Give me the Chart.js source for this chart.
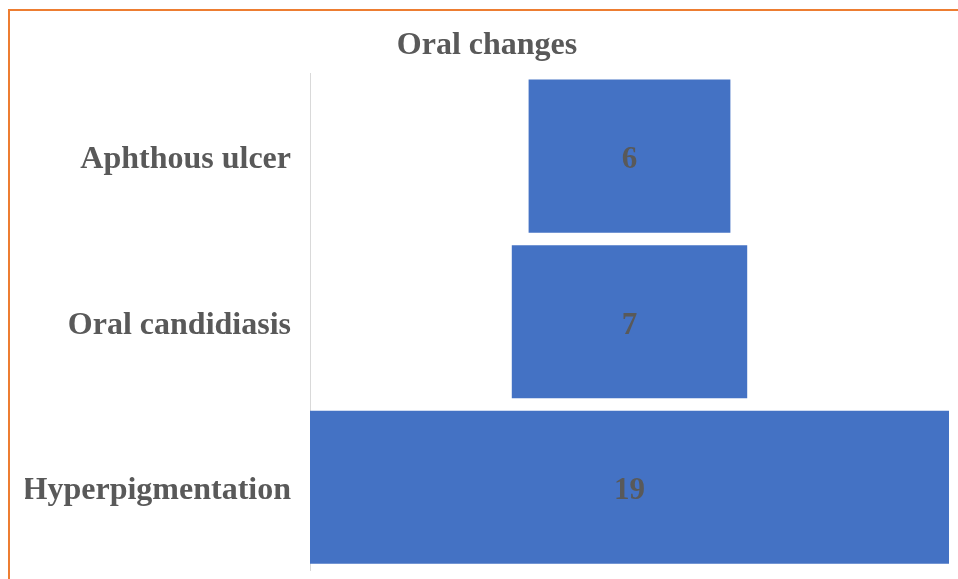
<!DOCTYPE html>
<html>
<head>
<meta charset="utf-8">
<script src="https://cdn.jsdelivr.net/npm/chart.js@4"></script>
<style>
  html, body { margin: 0; padding: 0; background: #fff; overflow: hidden; }
  #frame { position: absolute; left: 8px; top: 9px; width: 948px; height: 568px;
           border-top: 2px solid #ED7D31; border-left: 2px solid #ED7D31; }
  #funnelChart { position: absolute; left: 0; top: 0; }
</style>
</head>
<body>
<div id="frame"></div>
<canvas id="funnelChart" width="958" height="579"></canvas>
<script>
const categories = ['Aphthous ulcer', 'Oral candidiasis', 'Hyperpigmentation'];
const counts = [6, 7, 19];

const maxCount = Math.max(...counts);
// funnel: each bar centred on zero
const spans = counts.map(v => [-v / 2, v / 2]);

const valueLabels = {
  id: 'valueLabels',
  afterDatasetsDraw(chart) {
    const ctx = chart.ctx;
    ctx.save();
    ctx.font = 'bold 31px "Liberation Serif", "Times New Roman", serif';
    ctx.fillStyle = '#595959';
    ctx.textAlign = 'center';
    ctx.textBaseline = 'middle';
    chart.getDatasetMeta(0).data.forEach((bar, i) => {
      const c = bar.getCenterPoint();
      ctx.fillText(counts[i], c.x, c.y + 4);
    });
    ctx.restore();
  }
};

const ctx = document.getElementById('funnelChart').getContext('2d');
new Chart(ctx, {
  type: 'bar',
  data: {
    labels: categories,
    datasets: [{
      data: spans,
      backgroundColor: '#4472C4',
      borderWidth: 0,
      barPercentage: 0.925,
      categoryPercentage: 1
    }]
  },
  options: {
    indexAxis: 'y',
    responsive: false,
    animation: false,
    layout: { padding: { left: 25, right: 9, top: 0, bottom: 9 } },
    scales: {
      x: { display: false, min: -maxCount / 2, max: maxCount / 2 },
      y: {
        grid: { display: false, drawTicks: false },
        border: { display: true, color: '#d9d9d9', width: 1 },
        ticks: {
          padding: 19,
          labelOffset: 4,
          color: '#595959',
          font: { family: '"Liberation Serif", "Times New Roman", serif', size: 32, weight: 'bold' }
        },
        afterFit(scale) {
          scale.width = 285;
          // labels sit in the middle of each band, no extra room needed
          scale.paddingTop = 0;
          scale.paddingBottom = 0;
        }
      }
    },
    plugins: {
      legend: { display: false },
      tooltip: { enabled: false },
      title: {
        display: true,
        text: 'Oral changes',
        color: '#595959',
        font: { family: '"Liberation Serif", "Times New Roman", serif', size: 32, weight: 'bold' },
        padding: { top: 27, bottom: 8 }
      }
    }
  },
  plugins: [valueLabels]
});
</script>
</body>
</html>
